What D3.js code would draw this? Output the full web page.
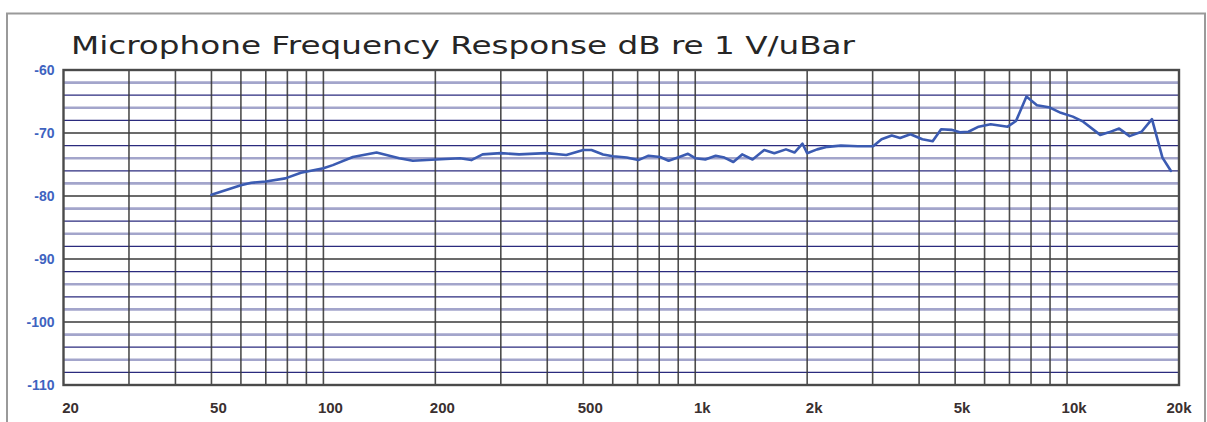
<!DOCTYPE html>
<html>
<head>
<meta charset="utf-8">
<script src="https://cdn.jsdelivr.net/npm/d3@7"></script>
<style>
  html, body { margin: 0; padding: 0; background: #fff; }
  svg { display: block; }
</style>
</head>
<body>
<svg id="chart" width="1207" height="422"></svg>
<script>
// ---- data ----
const title = "Microphone Frequency Response dB re 1 V/uBar";
const freqs = [50, 60, 64, 70, 79, 87, 100, 106, 120, 139, 160, 174, 201, 233, 250, 268, 300, 336, 397, 450, 500, 526, 565, 601, 654, 703, 749, 805, 848, 906, 956, 1000, 1064, 1135, 1198, 1266, 1337, 1426, 1533, 1632, 1754, 1849, 1943, 2000, 2127, 2266, 2465, 2736, 3009, 3170, 3377, 3556, 3791, 4082, 4351, 4584, 4888, 5150, 5430, 5785, 6228, 6922, 7289, 7777, 8298, 8931, 9620, 10360, 11050, 12276, 12947, 13807, 14725, 15860, 16917, 18050, 19010];
const levels = [-79.8, -78.3, -77.9, -77.7, -77.2, -76.3, -75.6, -75.1, -73.8, -73.1, -74.0, -74.4, -74.2, -74.0, -74.3, -73.4, -73.2, -73.4, -73.2, -73.5, -72.7, -72.7, -73.4, -73.7, -73.9, -74.3, -73.6, -73.8, -74.4, -73.8, -73.3, -74.0, -74.2, -73.6, -73.9, -74.6, -73.4, -74.2, -72.7, -73.2, -72.6, -73.1, -71.7, -73.2, -72.6, -72.2, -72.0, -72.1, -72.1, -71.0, -70.4, -70.8, -70.2, -71.0, -71.3, -69.4, -69.5, -69.9, -69.8, -69.0, -68.6, -69.0, -68.1, -64.2, -65.6, -65.9, -66.8, -67.4, -68.2, -70.3, -69.9, -69.3, -70.5, -69.8, -67.8, -73.9, -76.0];
const xTickValues = [20, 50, 100, 200, 500, 1000, 2000, 5000, 10000, 20000];
const xTickLabels = ["20", "50", "100", "200", "500", "1k", "2k", "5k", "10k", "20k"];
const yTickValues = [-60, -70, -80, -90, -100, -110];
const yTickLabels = ["-60", "-70", "-80", "-90", "-100", "-110"];
const xDomain = [20, 20000];
const yDomain = [-110, -60];

// ---- layout ----
const svg = d3.select("#chart");
const plot = { left: 63.5, right: 1179, top: 70, bottom: 385 };

const x = d3.scaleLog().domain(xDomain).range([plot.left, plot.right]);
const y = d3.scaleLinear().domain(yDomain).range([plot.bottom, plot.top]);

// outer frame
svg.append("rect")
  .attr("x", 7).attr("y", 13.5)
  .attr("width", 1198).attr("height", 430)
  .attr("fill", "none").attr("stroke", "#9a9a9a").attr("stroke-width", 2);

// title
svg.append("text")
  .attr("x", 71).attr("y", 53.5)
  .attr("textLength", 784).attr("lengthAdjust", "spacingAndGlyphs")
  .attr("font-family", "DejaVu Sans, sans-serif")
  .attr("font-size", 25)
  .attr("fill", "#262626")
  .text(title);

const g = svg.append("g");

// horizontal minor grid lines (every 2 dB)
const minorY = d3.range(-108, -60, 2).filter(v => v % 10 !== 0);
g.selectAll("line.hminor")
  .data(minorY)
  .join("line")
  .attr("class", "hminor")
  .attr("x1", plot.left).attr("x2", plot.right)
  .attr("y1", d => y(d)).attr("y2", d => y(d))
  .attr("stroke", d => (Math.abs(d) % 4 === 2) ? "#a3a5cb" : "#2b2b7e")
  .attr("stroke-width", d => (Math.abs(d) % 4 === 2) ? 2.6 : 1.2);

// horizontal major grid lines
g.selectAll("line.hmajor")
  .data(yTickValues.filter(v => v !== -60 && v !== -110))
  .join("line")
  .attr("class", "hmajor")
  .attr("x1", plot.left).attr("x2", plot.right)
  .attr("y1", d => y(d)).attr("y2", d => y(d))
  .attr("stroke", "#3a3a3a")
  .attr("stroke-width", 1.6);

// vertical grid lines: 30..90, 100..900, 1k..9k, 10k
const vLines = [];
[10, 100, 1000].forEach(dec => {
  for (let m = 1; m <= 9; m++) {
    const f = m * dec * 1;
    if (f > 20 && f < 20000) vLines.push(f);
  }
});
[30, 40, 50, 60, 70, 80, 90].forEach(f => { if (!vLines.includes(f)) vLines.push(f); });
const vSet = Array.from(new Set(vLines.concat([10000]))).filter(f => f > 20 && f < 20000);
g.selectAll("line.v")
  .data(vSet)
  .join("line")
  .attr("class", "v")
  .attr("x1", d => x(d)).attr("x2", d => x(d))
  .attr("y1", plot.top).attr("y2", plot.bottom)
  .attr("stroke", "#3a3a3a")
  .attr("stroke-opacity", 0.9)
  .attr("stroke-width", 1.6);

// plot border
g.append("rect")
  .attr("x", plot.left).attr("y", plot.top)
  .attr("width", plot.right - plot.left).attr("height", plot.bottom - plot.top)
  .attr("fill", "none").attr("stroke", "#4a4a4a").attr("stroke-width", 2.4);

// y labels
svg.selectAll("text.ylab")
  .data(yTickValues)
  .join("text")
  .attr("class", "ylab")
  .attr("x", plot.left - 9)
  .attr("y", d => y(d))
  .attr("dy", "0.36em")
  .attr("text-anchor", "end")
  .attr("font-family", "Liberation Sans, Arial, sans-serif")
  .attr("font-weight", "bold")
  .attr("font-size", 14)
  .attr("fill", "#3e63c0")
  .text((d, i) => yTickLabels[i]);

// x labels
svg.selectAll("text.xlab")
  .data(xTickValues)
  .join("text")
  .attr("class", "xlab")
  .attr("x", d => x(d))
  .attr("dx", (d, i) => i === xTickValues.length - 1 ? 0 : 7)
  .attr("y", 413)
  .attr("text-anchor", "middle")
  .attr("font-family", "Liberation Sans, Arial, sans-serif")
  .attr("font-weight", "bold")
  .attr("font-size", 15)
  .attr("fill", "#3a3030")
  .text((d, i) => xTickLabels[i]);

// response curve
const pts = freqs.map((f, i) => [f, levels[i]]);
svg.append("path")
  .datum(pts)
  .attr("fill", "none")
  .attr("stroke", "#3b5bb2")
  .attr("stroke-width", 2.6)
  .attr("stroke-linejoin", "round")
  .attr("stroke-linecap", "round")
  .attr("d", d3.line().x(d => x(d[0])).y(d => y(d[1])));
</script>
</body>
</html>
